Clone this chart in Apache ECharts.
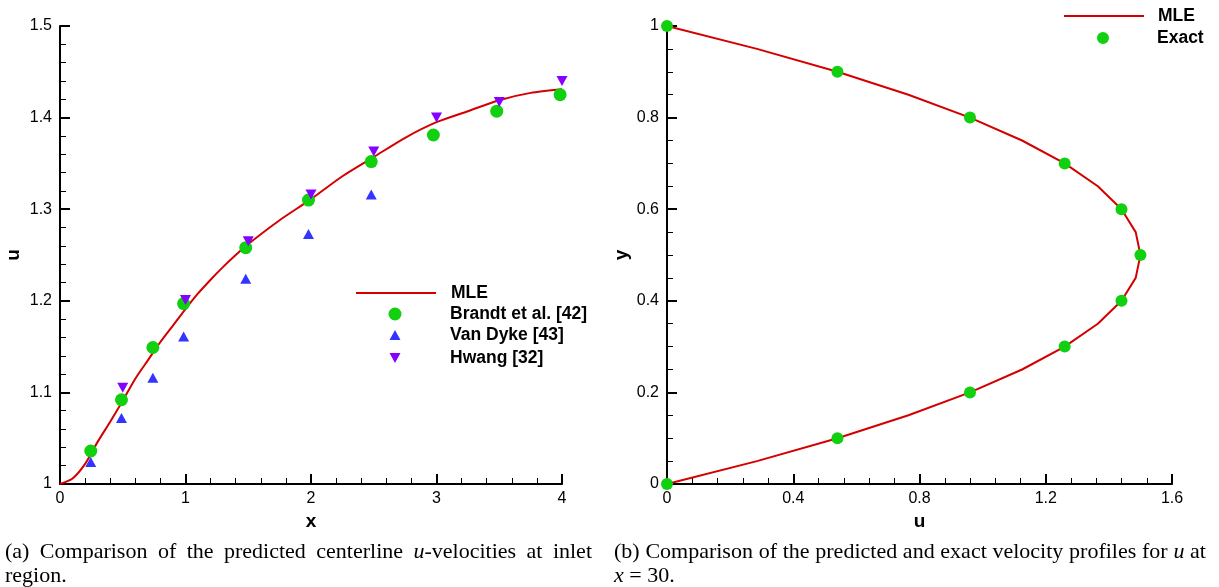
<!DOCTYPE html>
<html>
<head>
<meta charset="utf-8">
<script src="https://cdn.jsdelivr.net/npm/echarts@6/dist/echarts.min.js"></script>
<style>
  html, body { margin: 0; padding: 0; background: #fff; }
  #chart { position: absolute; left: 0; top: 0; width: 1219px; height: 587px; }
  .cap {
    position: absolute;
    font-family: "Liberation Serif", "Times New Roman", serif;
    font-size: 22px;
    line-height: 24px;
    color: #000;
  }
  .cap .l1 { text-align: justify; text-align-last: justify; }
</style>
</head>
<body>
<div id="chart"></div>
<div class="cap" style="left:5px; top:539px; width:587px;">
  <div class="l1">(a) Comparison of the predicted centerline <i>u</i>-velocities at inlet</div>
  <div>region.</div>
</div>
<div class="cap" style="left:614px; top:539px; width:592px;">
  <div class="l1">(b) Comparison of the predicted and exact velocity profiles for <i>u</i> at</div>
  <div><i>x</i> = 30.</div>
</div>
<script>
// ---- (a) centerline u-velocity in the inlet region ----
const mleX = [0, 0.1, 0.2, 0.3, 0.4, 0.5, 0.6, 0.7, 0.8, 0.9, 1.0, 1.1, 1.2, 1.3, 1.4, 1.5,
              1.75, 2.0, 2.25, 2.5, 2.75, 3.0, 3.25, 3.5, 3.75, 4.0];
const mleU = [1.0, 1.006, 1.022, 1.046, 1.068, 1.091, 1.115, 1.135, 1.155, 1.173, 1.191, 1.208, 1.223, 1.237, 1.250, 1.262,
              1.288, 1.311, 1.336, 1.357, 1.378, 1.395, 1.407, 1.419, 1.427, 1.431];

const brandtX = [0.245, 0.49, 0.74, 0.985, 1.48, 1.98, 2.48, 2.975, 3.48, 3.985];
const brandtU = [1.036, 1.092, 1.149, 1.197, 1.258, 1.310, 1.352, 1.381, 1.407, 1.425];

const vanDykeX = [0.245, 0.49, 0.74, 0.985, 1.48, 1.98, 2.48];
const vanDykeU = [1.024, 1.072, 1.116, 1.161, 1.224, 1.273, 1.316];

const hwangX = [0.5, 1.0, 1.5, 2.0, 2.5, 3.0, 3.5, 4.0];
const hwangU = [1.105, 1.201, 1.265, 1.316, 1.363, 1.400, 1.417, 1.440];

// ---- (b) velocity profile at x = 30 ----
const profileY = [0, 0.05, 0.1, 0.15, 0.2, 0.25, 0.3, 0.35, 0.4, 0.45, 0.5,
                  0.55, 0.6, 0.65, 0.7, 0.75, 0.8, 0.85, 0.9, 0.95, 1.0];
const profileMleU = [0, 0.285, 0.54, 0.765, 0.96, 1.125, 1.26, 1.365, 1.44, 1.485, 1.5,
                     1.485, 1.44, 1.365, 1.26, 1.125, 0.96, 0.765, 0.54, 0.285, 0];

const exactY = [0, 0.1, 0.2, 0.3, 0.4, 0.5, 0.6, 0.7, 0.8, 0.9, 1.0];
const exactU = [0, 0.54, 0.96, 1.26, 1.44, 1.5, 1.44, 1.26, 0.96, 0.54, 0];

// axis ranges: [min, max, major step, minor subdivisions]
const axisA_x = [0, 4, 1, 5];
const axisA_y = [1, 1.5, 0.1, 5];
const axisB_x = [0, 1.6, 0.4, 5];
const axisB_y = [0, 1, 0.2, 4];

const RED = '#d40000';
const GREEN = '#10d010';
const BLUE = '#3434ff';
const PURPLE = '#8400ff';
const SANS = '"Liberation Sans", Arial, Helvetica, sans-serif';

const zip = (a, b) => a.map((v, i) => [v, b[i]]);

// Legend icons: an 80-wide box with the marker centred in it; the two
// tiny corner specks pin the path's bounding box to the full icon size.
function boxed(w, h, body) {
  return 'path://M0,0 L0.01,0 L0,0.01 Z M' + w + ',' + h + ' L' + (w - 0.01) + ',' + h + ' L' + w + ',' + (h - 0.01) + ' Z ' + body;
}
const circleIcon = (w, d) => {
  const c = w / 2, r = d / 2;
  return boxed(w, d, 'M' + (c - r) + ',' + r + ' A' + r + ',' + r + ' 0 1,0 ' + (c + r) + ',' + r +
                     ' A' + r + ',' + r + ' 0 1,0 ' + (c - r) + ',' + r + ' Z');
};
const triangleUpIcon = (w, tw, h) => {
  const c = w / 2;
  return boxed(w, h, 'M' + (c - tw / 2) + ',' + h + ' L' + c + ',0 L' + (c + tw / 2) + ',' + h + ' Z');
};
const triangleDownIcon = (w, tw, h) => {
  const c = w / 2;
  return boxed(w, h, 'M' + (c - tw / 2) + ',0 L' + (c + tw / 2) + ',0 L' + c + ',' + h + ' Z');
};

function makeAxis(range, name, gridIndex, isY, nameGap) {
  return {
    type: 'value',
    gridIndex: gridIndex,
    min: range[0], max: range[1], interval: range[2],
    name: name,
    nameLocation: 'middle',
    nameGap: nameGap,
    nameTextStyle: { color: '#000', fontSize: 19, fontWeight: 'bold', fontFamily: SANS },
    axisLine: { show: true, onZero: false, lineStyle: { color: '#000', width: 2 } },
    axisTick: { show: true, inside: true, length: 10, lineStyle: { color: '#000', width: 2 } },
    minorTick: { show: true, splitNumber: range[3], length: 6, lineStyle: { color: '#000', width: 1 } },
    splitLine: { show: false },
    minorSplitLine: { show: false },
    axisLabel: { color: '#000', fontSize: 16, fontFamily: SANS, margin: isY ? 8 : 7,
                 showMinLabel: true, showMaxLabel: true, hideOverlap: false }
  };
}

const legendText = (pad) => ({ color: '#000', fontSize: 17.5, fontWeight: 'bold', fontFamily: SANS, padding: [0, 0, 0, pad] });

function legendRow(name, left, top, h, icon, pad) {
  const item = { name: name };
  if (icon) item.icon = icon;
  const l = {
    data: [item], left: left, top: top, padding: 0,
    itemWidth: 80, itemHeight: h, selectedMode: false,
    textStyle: legendText(pad)
  };
  if (!icon) l.itemStyle = { opacity: 0 };
  return l;
}

const chart = echarts.init(document.getElementById('chart'), null, { renderer: 'canvas' });

chart.setOption({
  animation: false,
  backgroundColor: '#fff',
  grid: [
    { left: 60, right: 657, top: 26, bottom: 103, outerBoundsMode: 'none', containLabel: false },
    { left: 667, right: 47, top: 26, bottom: 103, outerBoundsMode: 'none', containLabel: false }
  ],
  xAxis: [
    makeAxis(axisA_x, 'x', 0, false, 22),
    makeAxis(axisB_x, 'u', 1, false, 22)
  ],
  yAxis: [
    makeAxis(axisA_y, 'u', 0, true, 37),
    makeAxis(axisB_y, 'y', 1, true, 36)
  ],
  legend: [
    legendRow('MLE', 355, 284, 14, null, 10),
    legendRow('Brandt et al. [42]', 355, 305, 13, circleIcon(80, 13), 10),
    legendRow('Van Dyke [43]', 355, 326, 10, triangleUpIcon(80, 11, 10), 10),
    legendRow('Hwang [32]', 355, 349, 10, triangleDownIcon(80, 11, 10), 10),
    legendRow('MLE', 1063, 7, 14, null, 9),
    legendRow('Exact', 1063, 29, 12, circleIcon(80, 12), 9)
  ],
  series: [
    {
      name: 'MLE', type: 'line', xAxisIndex: 0, yAxisIndex: 0,
      data: zip(mleX, mleU), symbol: 'none', smooth: 0.25,
      lineStyle: { color: RED, width: 2 }, itemStyle: { color: RED }, z: 2
    },
    {
      name: 'Brandt et al. [42]', type: 'scatter', xAxisIndex: 0, yAxisIndex: 0,
      data: zip(brandtX, brandtU), symbol: 'circle', symbolSize: 13, clip: false,
      itemStyle: { color: GREEN, opacity: 1 }, z: 3
    },
    {
      name: 'Van Dyke [43]', type: 'scatter', xAxisIndex: 0, yAxisIndex: 0,
      data: zip(vanDykeX, vanDykeU), symbol: 'triangle', symbolSize: [11, 10], clip: false,
      itemStyle: { color: BLUE, opacity: 1 }, z: 4
    },
    {
      name: 'Hwang [32]', type: 'scatter', xAxisIndex: 0, yAxisIndex: 0,
      data: zip(hwangX, hwangU), symbol: 'triangle', symbolRotate: 180, symbolSize: [11, 10], clip: false,
      itemStyle: { color: PURPLE, opacity: 1 }, z: 5
    },
    {
      name: 'MLE', type: 'line', xAxisIndex: 1, yAxisIndex: 1,
      data: zip(profileMleU, profileY), symbol: 'none', smooth: false,
      lineStyle: { color: RED, width: 2 }, itemStyle: { color: RED }, z: 2
    },
    {
      name: 'Exact', type: 'scatter', xAxisIndex: 1, yAxisIndex: 1,
      data: zip(exactU, exactY), symbol: 'circle', symbolSize: 12, clip: false,
      itemStyle: { color: GREEN, opacity: 1 }, z: 3
    }
  ]
});
</script>
</body>
</html>
